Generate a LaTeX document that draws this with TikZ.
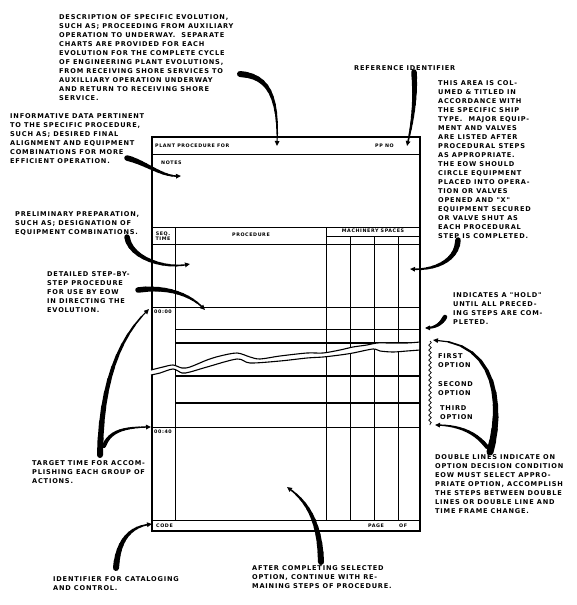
\documentclass[tikz,border=0pt]{standalone}
\usepackage{fontspec}
\setmainfont{DejaVu Sans}
\newfontfamily\notefont[LetterSpace=12]{DejaVu Sans}
\usetikzlibrary{arrows.meta,calc,decorations.pathmorphing}

% tapered pointer: [base width]{start}{control 1}{control 2}{tip}
\newcommand\taperarrow[5][5]{%
  \path (#2) .. controls (#3) and (#4) .. (#5)
    coordinate[pos=0] (tq0) coordinate[pos=.0833] (tq1)
    coordinate[pos=.1667] (tq2) coordinate[pos=.25] (tq3)
    coordinate[pos=.3333] (tq4) coordinate[pos=.4167] (tq5)
    coordinate[pos=.5] (tq6) coordinate[pos=.5833] (tq7)
    coordinate[pos=.6667] (tq8) coordinate[pos=.75] (tq9)
    coordinate[pos=.8333] (tq10) coordinate[pos=.9167] (tq11)
    coordinate[pos=1] (tq12);
  \foreach \k [count=\n from 1, evaluate=\k as \w using {#1-(#1-1.2)*\k/11}] in {0,...,10}
    \draw[line width=\w pt, line cap=round] (tq\k) -- (tq\n);
  \draw[line width=1.2pt, -{Triangle[length=5pt,width=4.5pt]}] (tq11) -- (tq12);
}

\tikzset{
  note/.style={align=left, anchor=north west, inner sep=0pt,
    font=\notefont\bfseries\fontsize{6.6}{9}\selectfont},
  formtext/.style={inner sep=0pt, font=\notefont\bfseries\fontsize{4.8}{5.2}\selectfont},
  thinrule/.style={line width=0.8pt},
  heavyrule/.style={line width=1.8pt},
}

\begin{document}
\begin{tikzpicture}[x=1pt,y=-1pt]
  \useasboundingbox (0,0) rectangle (576,605);

  % the form
  \draw[line width=1.3pt] (152,137) rectangle (420,531);
  \draw[thinrule] (152,154) -- (420,154);
  \draw[thinrule] (152,227) -- (420,227);
  \draw[thinrule] (326,236) -- (420,236);
  \draw[thinrule] (152,244) -- (420,244);
  \draw[thinrule] (175,227) -- (175,520);
  \draw[thinrule] (326,227) -- (326,520);
  \foreach \x in {350,374,398}
    \draw[thinrule] (\x,236) -- (\x,520);
  \draw[thinrule] (152,307) -- (420,307);
  \draw[thinrule] (175,329) -- (420,329);
  \draw[heavyrule] (175,343) -- (420,343);
  \draw[heavyrule] (175,376) -- (420,376);
  \draw[heavyrule] (175,403) -- (420,403);
  \draw[thinrule] (152,427) -- (420,427);
  \draw[thinrule] (152,520) -- (420,520);

  % torn break across the first option
  \fill[white] plot[smooth] coordinates {(151,370) (163,367) (173,365) (182,368) (190,367)
      (207,360) (220,356) (237,353) (250,357) (260,359) (280,356) (307,353) (323,353)
      (340,350) (353,347) (367,345) (377,343) (390,343) (407,343) (419,342)}
    -- plot[smooth] coordinates {(419,350) (407,351) (393,352) (380,351) (373,349)
      (353,353) (340,355) (323,357) (307,358) (280,361) (250,363) (237,359) (207,367)
      (190,372) (182,373) (173,369) (160,373) (151,375)} -- cycle;
  \draw[line width=1.1pt] plot[smooth] coordinates {(151,370) (163,367) (173,365) (182,368)
      (190,367) (207,360) (220,356) (237,353) (250,357) (260,359) (280,356) (307,353)
      (323,353) (340,350) (353,347) (367,345) (377,343) (390,343) (407,343) (420,342)};
  \draw[line width=1.1pt] plot[smooth] coordinates {(151,375) (160,373) (173,369) (182,373)
      (190,372) (207,367) (237,359) (250,363) (280,361) (307,358) (323,357) (340,355)
      (353,353) (373,349) (380,351) (393,352) (407,351) (420,350)};

  % option brace
  \draw[line width=0.7pt, decorate, decoration={snake, segment length=5pt, amplitude=1.3pt}]
    (430,341) -- (430,425);

  % texts on the form
  \node[formtext, anchor=west] (plant) at (155,146) {PLANT PROCEDURE FOR};
  \node[formtext, anchor=west] (ppno) at (375,146) {PP NO};
  \node[formtext, anchor=west] (notes) at (161,163) {NOTES};
  \node[formtext, align=center] (seq) at (163,236) {SEQ.\\TIME};
  \node[formtext] (proc) at (251,235) {PROCEDURE};
  \node[formtext] (mach) at (373,231) {MACHINERY SPACES};
  \node[formtext, anchor=west] (tzero) at (154,312) {00:00};
  \node[formtext, anchor=west] (tforty) at (154,432) {00:40};
  \node[formtext, anchor=west] (code) at (156,526) {CODE};
  \node[formtext, anchor=west] (page) at (368,526) {PAGE};
  \node[formtext, anchor=west] (pof) at (399,526) {OF};

  % notes around the form
  \node[note] (desc) at (59,14) {DESCRIPTION OF SPECIFIC EVOLUTION,\\SUCH AS; PROCEEDING FROM AUXILIARY\\OPERATION TO UNDERWAY.\ \ SEPARATE\\CHARTS ARE PROVIDED FOR EACH\\EVOLUTION FOR THE COMPLETE CYCLE\\OF ENGINEERING PLANT EVOLUTIONS,\\FROM RECEIVING SHORE SERVICES TO\\AUXILLIARY OPERATION UNDERWAY\\AND RETURN TO RECEIVING SHORE\\SERVICE.};
  \node[note] (refid) at (354,65) {REFERENCE IDENTIFIER};
  \node[note] (colnote) at (438,80) {THIS AREA IS COL-\\UMED \& TITLED IN\\ACCORDANCE WITH\\THE SPECIFIC SHIP\\TYPE.\ \ MAJOR EQUIP-\\MENT AND VALVES\\ARE LISTED AFTER\\PROCEDURAL STEPS\\AS APPROPRIATE.\\THE EOW SHOULD\\CIRCLE EQUIPMENT\\PLACED INTO OPERA-\\TION OR VALVES\\OPENED AND "X"\\EQUIPMENT SECURED\\OR VALVE SHUT AS\\EACH PROCEDURAL\\STEP IS COMPLETED.};
  \node[note] (info) at (10,113) {INFORMATIVE DATA PERTINENT\\TO THE SPECIFIC PROCEDURE,\\SUCH AS; DESIRED FINAL\\ALIGNMENT AND EQUIPMENT\\COMBINATIONS FOR MORE\\EFFICIENT OPERATION.};
  \node[note] (prelim) at (15,211) {PRELIMINARY PREPARATION,\\SUCH AS; DESIGNATION OF\\EQUIPMENT COMBINATIONS.};
  \node[note] (detail) at (47,271) {DETAILED STEP-BY-\\STEP PROCEDURE\\FOR USE BY EOW\\IN DIRECTING THE\\EVOLUTION.};
  \node[note] (hold) at (453,292) {INDICATES A "HOLD"\\UNTIL ALL PRECED-\\ING STEPS ARE COM-\\PLETED.};
  \node[note] (opta) at (438,353) {FIRST\\OPTION};
  \node[note] (optb) at (438,381) {SECOND\\OPTION};
  \node[note] (optc) at (440,405) {THIRD\\OPTION};
  \node[note] (target) at (32,460) {TARGET TIME FOR ACCOM-\\PLISHING EACH GROUP OF\\ACTIONS.};
  \node[note] (dblnote) at (435,454) {DOUBLE LINES INDICATE ON\\OPTION DECISION CONDITION\\EOW MUST SELECT APPRO-\\PRIATE OPTION, ACCOMPLISH\\THE STEPS BETWEEN DOUBLE\\LINES OR DOUBLE LINE AND\\TIME FRAME CHANGE.};
  \node[note] (ident) at (53,576) {IDENTIFIER FOR CATALOGING\\AND CONTROL.};
  \node[note] (after) at (252,565) {AFTER COMPLETING SELECTED\\OPTION, CONTINUE WITH RE-\\MAINING STEPS OF PROCEDURE.};

  % pointer ends
  \coordinate (descout) at (240,74);
  \coordinate (hdrpt) at (277,146);
  \coordinate (refout) at (414,72);
  \coordinate (ppnopt) at (407,146);
  \coordinate (infoout) at (127,158);
  \coordinate (notespt) at (181,176);
  \coordinate (colout) at (458,240);
  \coordinate (machpt) at (410,269);
  \coordinate (prelimout) at (127,237);
  \coordinate (prelimpt) at (190,264);
  \coordinate (detailout) at (138,290);
  \coordinate (detailpt) at (205,310);
  \coordinate (targetout) at (100,455);
  \coordinate (targetfork) at (104,446);
  \coordinate (zeropt) at (149,309);
  \coordinate (fortypt) at (151,427);
  \coordinate (holdout) at (445,317);
  \coordinate (holdpt) at (425,328);
  \coordinate (dblout) at (490,452);
  \coordinate (dblfork) at (487,447);
  \coordinate (firstpt) at (433,340);
  \coordinate (thirdpt) at (435,425);
  \coordinate (afterout) at (321,562);
  \coordinate (afterpt) at (287,487);
  \coordinate (identout) at (116,568);
  \coordinate (codept) at (152,524);

  % pointers
  \taperarrow[6]{descout}{268,76}{279,95}{hdrpt}
  \taperarrow[5.5]{refout}{416,100}{412,125}{ppnopt}
  \taperarrow[5.5]{infoout}{147,163}{163,178}{notespt}
  \taperarrow[5.5]{colout}{457,262}{432,271}{machpt}
  \taperarrow[5.5]{prelimout}{130,258}{165,270}{prelimpt}
  \taperarrow[5.5]{detailout}{168,286}{192,295}{detailpt}
  \taperarrow[6]{targetout}{101,385}{118,338}{zeropt}
  \taperarrow[4]{targetfork}{110,430}{126,427}{fortypt}
  \taperarrow[4.5]{holdout}{440,326}{433,328}{holdpt}
  \taperarrow[7]{dblout}{502,410}{500,342}{firstpt}
  \taperarrow[4]{dblfork}{474,430}{455,425}{thirdpt}
  \taperarrow[6]{afterout}{320,520}{306,500}{afterpt}
  \taperarrow[6]{identout}{118,540}{130,526}{codept}
\end{tikzpicture}
\end{document}
